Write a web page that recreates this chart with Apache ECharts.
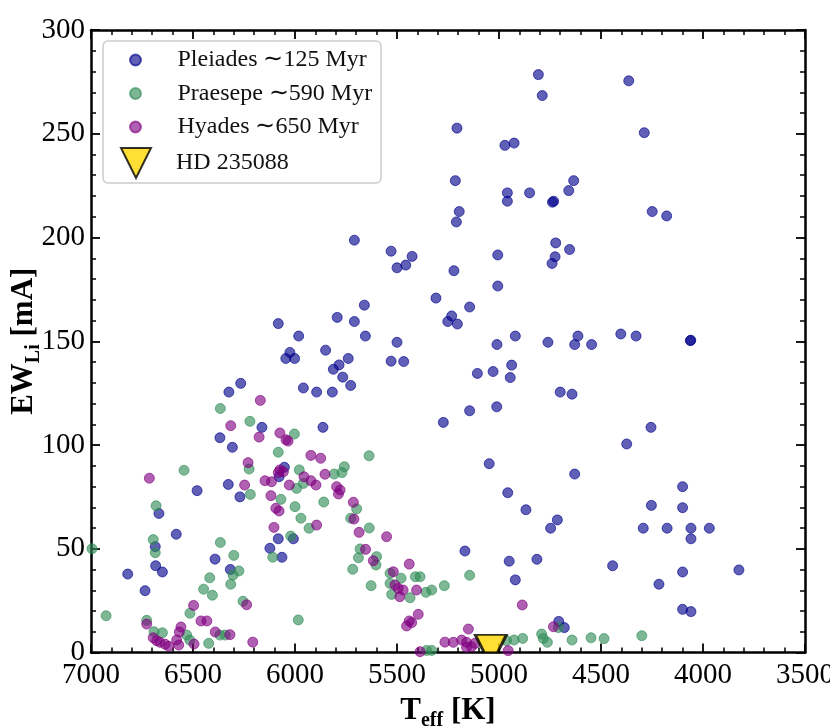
<!DOCTYPE html>
<html>
<head>
<meta charset="utf-8">
<script src="https://cdn.jsdelivr.net/npm/echarts@6/dist/echarts.min.js"></script>
<style>
  html, body { margin: 0; padding: 0; background: #fff; }
  #chart { width: 830px; height: 727px; }
</style>
</head>
<body>
<div id="chart"></div>
<script>
// [Teff (K), EW_Li (mA)]
var pleiades = [
  [4807, 278.5], [4788, 268.4], [4364, 275.5], [5206, 252.7], [4288, 250.5],
  [4971, 244.4], [4926, 245.5], [5214, 227.4], [4634, 227.4], [4959, 221.5],
  [4850, 221.5], [4658, 222.6], [4959, 217.5], [4732, 217.5], [4738, 217.0],
  [5195, 212.5], [5209, 207.5], [4249, 212.5], [4178, 210.4], [4722, 197.4],
  [4654, 194.2], [5709, 198.7], [5529, 193.4], [5426, 190.9], [5500, 185.4],
  [5457, 186.7], [5221, 184.0], [5006, 191.6], [5006, 176.6], [4725, 190.7],
  [4740, 187.5], [5309, 170.8], [5144, 166.5], [5232, 162.2], [5251, 159.5],
  [5204, 158.3], [5660, 167.4], [5793, 161.5], [5709, 159.5], [5655, 152.5],
  [6082, 158.5], [5982, 152.5], [5850, 145.7], [6025, 144.6], [6045, 141.7],
  [6002, 141.7], [5739, 141.7], [5784, 138.6], [5812, 136.5], [5766, 132.7],
  [5727, 128.7], [5959, 127.5], [5894, 125.5], [5817, 125.5], [6266, 129.7],
  [6324, 125.5], [6162, 108.5], [5863, 108.5], [6368, 103.5], [6307, 98.9],
  [5500, 149.5], [5529, 140.4], [5467, 140.2], [5010, 148.4], [4920, 152.5],
  [4760, 149.5], [4613, 152.5], [4629, 148.4], [4546, 148.4], [4403, 153.5],
  [5106, 134.5], [5029, 135.4], [4938, 138.5], [4945, 132.5], [4700, 125.5],
  [4642, 124.5], [5144, 116.5], [5011, 118.4], [5273, 110.9], [4374, 100.5],
  [4328, 152.5], [4060, 150.5], [4062, 150.3], [4255, 108.5], [6480, 78.0],
  [6327, 81.0], [6270, 75.0], [6667, 67.0], [6582, 57.0], [6685, 51.0],
  [6392, 45.0], [6317, 40.0], [6683, 41.8], [6650, 38.8], [6820, 37.8],
  [6735, 29.8], [4100, 79.9], [4253, 70.9], [4100, 69.8], [4293, 59.9],
  [4176, 59.9], [4059, 59.9], [3969, 59.9], [4059, 54.8], [4443, 41.8],
  [4100, 38.8], [3824, 39.8], [4216, 32.9], [4100, 20.8], [4059, 19.7],
  [5048, 91.0], [4629, 86.0], [4957, 77.0], [4868, 68.8], [4714, 63.9],
  [4747, 59.9], [5167, 48.9], [4950, 44.0], [4814, 44.9], [4920, 35.0],
  [4707, 15.0], [4680, 12.0], [6052, 89.3], [6078, 84.7], [6082, 54.8],
  [6008, 54.8], [6123, 50.2], [6064, 45.9]
];

var praesepe = [
  [6366, 117.6], [6221, 111.4], [6003, 105.3], [6082, 96.5], [6544, 87.8],
  [6219, 76.2], [6225, 88.4], [6681, 70.7], [6695, 54.4], [6685, 48.1],
  [6995, 50.0], [6366, 53.0], [6300, 46.8], [6275, 39.3], [6304, 37.3],
  [6315, 32.9], [6418, 36.0], [6448, 30.5], [6405, 27.6], [6255, 24.7],
  [6515, 18.9], [6926, 17.7], [6727, 15.5], [6691, 10.0], [6650, 9.5],
  [6531, 8.4], [6423, 4.4], [6368, 8.4], [6342, 8.4], [6516, 6.0],
  [5637, 94.8], [5758, 89.5], [5770, 86.7], [5808, 86.0], [5979, 88.0],
  [5992, 79.1], [5959, 81.5], [6069, 73.8], [5859, 72.5], [6000, 70.3],
  [5971, 64.7], [5931, 59.9], [5698, 69.2], [5727, 64.7], [5636, 60.0],
  [6021, 56.1], [5681, 49.9], [5689, 45.7], [5600, 46.2], [5603, 42.2],
  [5717, 40.1], [6109, 45.9], [5627, 32.2], [5984, 15.7], [5534, 38.2],
  [5480, 35.8], [5410, 36.5], [5534, 33.3], [5526, 28.0], [5436, 26.4],
  [5358, 29.0], [5355, 1.0], [5387, 36.5], [5144, 37.2], [5268, 32.2],
  [5330, 30.1], [5330, 1.0], [4926, 6.0], [4884, 6.8], [4963, 5.7],
  [4791, 8.9], [4783, 6.8], [4763, 4.9], [4642, 6.0], [4549, 7.1],
  [4485, 6.7], [4709, 12.0], [4300, 8.1]
];

var hyades = [
  [6170, 121.5], [6315, 109.3], [6176, 103.8], [6074, 105.8], [6044, 102.5],
  [6034, 101.9], [6714, 84.0], [6230, 91.5], [6247, 80.7], [6237, 23.0],
  [6497, 22.7], [6461, 15.2], [6432, 15.2], [6391, 9.9], [6319, 8.6],
  [6727, 13.7], [6559, 12.3], [6567, 9.9], [6695, 7.1], [6678, 5.7],
  [6662, 4.9], [6637, 4.0], [6619, 3.0], [6580, 6.0], [6570, 3.6],
  [6495, 4.1], [6207, 5.0], [5922, 95.0], [5874, 93.6], [6074, 88.0],
  [6057, 87.1], [6082, 86.7], [6147, 82.8], [6115, 82.3], [6028, 80.7],
  [5956, 84.7], [5922, 82.8], [5897, 80.7], [5853, 85.9], [5796, 79.9],
  [5779, 78.3], [5787, 76.4], [6118, 75.6], [6094, 69.5], [6078, 68.2],
  [5714, 72.4], [5711, 64.3], [5894, 61.4], [6103, 60.3], [5686, 57.9],
  [5551, 55.8], [5654, 49.7], [5616, 44.2], [5440, 42.6], [5518, 38.9],
  [5510, 32.5], [5494, 30.9], [5470, 30.1], [5486, 26.9], [5404, 30.1],
  [5396, 18.4], [5440, 15.2], [5453, 12.8], [5428, 14.4], [5387, 0.4],
  [4886, 22.9], [4733, 12.4], [5150, 11.3], [5265, 5.0], [5224, 4.9],
  [5183, 6.0], [5159, 4.9], [5135, 2.8], [5118, 4.4], [5159, 2.5],
  [4955, 0.9]
];

var hd235088 = [[5040, 1.0]];

var seriesNames = ['Pleiades \u223c125 Myr', 'Praesepe \u223c590 Myr', 'Hyades \u223c650 Myr', 'HD 235088'];
var xTicks = { min: 3500, max: 7000, step: 500 };
var yTicks = { min: 0, max: 300, step: 50 };

var serif = 'Liberation Serif';
var triPath = 'path://M0,0 L20,0 L10,20 Z';
// the plotted triangle is cut at the x axis, as in the original figure
var triCutPath = 'path://M0,0 L31,0 L22.25,17.5 L8.75,17.5 Z';

var chart = echarts.init(document.getElementById('chart'));

function axisStyle() {
    return {
        axisLine: { show: true, onZero: false, lineStyle: { color: '#000', width: 2.5 } },
        axisTick: { show: true, inside: true, length: 9, lineStyle: { color: '#000', width: 1.8 } },
        minorTick: { show: true, splitNumber: 5, length: 5, lineStyle: { color: '#000', width: 1.5 } },
        splitLine: { show: false }
    };
}

function tickLabel(show, margin) {
    return {
        show: show, margin: margin, color: '#000',
        fontFamily: serif, fontSize: 29,
        formatter: function (v) { return String(v); }
    };
}

function xAxisOf(pos, withLabels) {
    var a = axisStyle();
    a.type = 'value';
    a.position = pos;
    a.inverse = true;
    a.min = xTicks.min;
    a.max = xTicks.max;
    a.interval = xTicks.step;
    a.axisLabel = tickLabel(withLabels, 8);
    return a;
}

function yAxisOf(pos, withLabels) {
    var a = axisStyle();
    a.type = 'value';
    a.position = pos;
    a.min = yTicks.min;
    a.max = yTicks.max;
    a.interval = yTicks.step;
    a.axisLabel = tickLabel(withLabels, 6);
    return a;
}

var titleRich = {
    b: { fontFamily: serif, fontWeight: 'bold', fontSize: 31, lineHeight: 40, color: '#000' },
    s: { fontFamily: serif, fontWeight: 'bold', fontSize: 20, lineHeight: 22, verticalAlign: 'bottom', color: '#000' }
};

var xMain = xAxisOf('bottom', true);
xMain.name = '{b|T}{s|eff}{b| [K]}';
xMain.nameLocation = 'middle';
xMain.nameGap = 38;
xMain.nameMoveOverlap = false;
xMain.nameTextStyle = { rich: titleRich };

var yMain = yAxisOf('left', true);
yMain.name = '{b|EW}{s|Li}{b| [mA]}';
yMain.nameLocation = 'middle';
yMain.nameGap = 47;
yMain.nameRotate = 90;
yMain.nameMoveOverlap = false;
yMain.nameTextStyle = { rich: titleRich };

function dotStyle(rgb) {
    var c = 'rgba(' + rgb + ',0.78)';
    return { color: c, borderColor: c, borderWidth: 1 };
}

function legendText(pad) {
    return {
        fontFamily: serif, fontSize: 24, color: '#111', lineHeight: 26,
        padding: [0, 0, 0, pad]
    };
}

var option = {
    animation: false,
    backgroundColor: '#fff',
    grid: { left: 91, right: 25, top: 30, bottom: 74.5, outerBoundsMode: 'none' },
    xAxis: [xMain, xAxisOf('top', false)],
    yAxis: [yMain, yAxisOf('right', false)],
    legend: [{
        data: seriesNames.slice(0, 3).map(function (n) { return { name: n, icon: 'circle' }; }),
        orient: 'vertical', left: 129, top: 47, padding: 0,
        itemWidth: 30, itemHeight: 11, itemGap: 7.5,
        selectedMode: false, textStyle: legendText(22), z: 12
    }, {
        data: [{ name: seriesNames[3], icon: triPath }],
        orient: 'vertical', left: 120, top: 147, padding: 0,
        itemWidth: 30, itemHeight: 30,
        selectedMode: false, textStyle: legendText(20), z: 12
    }],
    graphic: [{
        // legend frame
        type: 'rect', z: 11,
        shape: { x: 103, y: 41, width: 278, height: 142, r: 5 },
        style: { fill: 'rgba(255,255,255,0.8)', stroke: '#cccccc', lineWidth: 1.5 }
    }],
    series: [{
        name: seriesNames[0], type: 'scatter', symbolSize: 10,
        itemStyle: dotStyle('0,0,139'), data: pleiades
    }, {
        name: seriesNames[1], type: 'scatter', symbolSize: 10,
        itemStyle: dotStyle('46,139,87'), data: praesepe
    }, {
        name: seriesNames[2], type: 'scatter', symbolSize: 10,
        itemStyle: dotStyle('128,0,128'), data: hyades
    }, {
        name: seriesNames[3], type: 'scatter', symbol: triCutPath,
        symbolSize: [31, 17.5], symbolOffset: [0, -6.75],
        itemStyle: { color: '#FFD700', borderColor: '#000', borderWidth: 2.5 },
        data: hd235088
    }]
};

chart.setOption(option);
</script>
</body>
</html>
